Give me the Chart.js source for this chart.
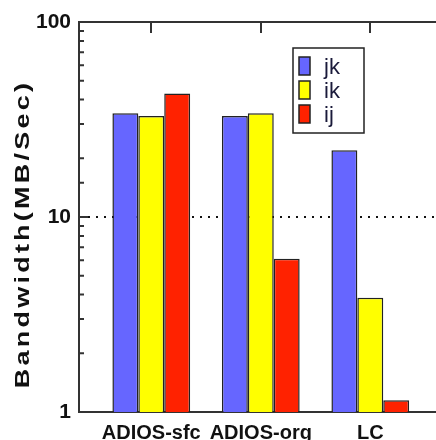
<!DOCTYPE html>
<html>
<head>
<meta charset="utf-8">
<script src="https://cdn.jsdelivr.net/npm/chart.js@4"></script>
<style>
  html, body { margin: 0; padding: 0; background: #fff; }
  #wrap { width: 436px; height: 440px; }
</style>
</head>
<body>
<div id="wrap"><canvas id="bwChart"></canvas></div>
<script>
// values (log scale, MB/Sec)
const categories = ["ADIOS-sfc", "ADIOS-org", "LC"];
const seriesNames = ["jk", "ik", "ij"];
const jkValues = [34, 33, 22];
const ikValues = [33, 34, 3.85];
const ijValues = [43, 6.1, 1.15];
const yTickLabels = [1, 10, 100];
const yTitleText = "Bandwidth(MB/Sec)";

const colors = ["#6666ff", "#ffff00", "#ff2200"];
const sans = "'Liberation Sans', Arial, sans-serif";

function toPoints(vals) {
    return vals.map((v, i) => ({ x: i, y: v }));
}

//frame on top + inward tick marks
const frameTicks = {
    id: "frameTicks",
    afterDatasetsDraw(chart) {
        const { ctx, chartArea: a, scales: { x, y } } = chart;
        ctx.save();
        ctx.strokeStyle = "#333";
        ctx.lineWidth = 2;
        ctx.beginPath();
        ctx.moveTo(a.left - 1, a.top);
        ctx.lineTo(a.right, a.top);
        categories.forEach((c, i) => {
            const px = Math.round(x.getPixelForValue(i));
            ctx.moveTo(px, a.top);
            ctx.lineTo(px, a.top + 11);
        });
        y.ticks.forEach(t => {
            const py = y.getPixelForValue(t.value);
            const len = yTickLabels.includes(t.value) ? 9 : 5;
            ctx.moveTo(a.left, py);
            ctx.lineTo(a.left + len, py);
        });
        ctx.stroke();
        ctx.restore();
    }
};

const yTitle = {
    id: "yTitle",
    afterDraw(chart) {
        const ctx = chart.ctx;
        ctx.save();
        ctx.translate(23, 234);
        ctx.rotate(-Math.PI / 2);
        ctx.scale(1.35, 1);
        ctx.font = "bold 20px " + sans;
        ctx.letterSpacing = "2.4px";
        ctx.textAlign = "center";
        ctx.textBaseline = "middle";
        ctx.fillStyle = "#111";
        ctx.fillText(yTitleText, 0, 0);
        ctx.restore();
    }
};

const boxLegend = {
    id: "boxLegend",
    afterDraw(chart) {
        const { ctx, chartArea: a } = chart;
        const bx = a.left + 214, by = a.top + 26, bw = 71, bh = 85;
        ctx.save();
        ctx.fillStyle = "#fff";
        ctx.fillRect(bx, by, bw, bh);
        ctx.strokeStyle = "#222";
        ctx.lineWidth = 1.5;
        ctx.strokeRect(bx, by, bw, bh);
        chart.data.datasets.forEach((ds, i) => {
            const sy = by + 9 + i * 24;
            ctx.fillStyle = ds.backgroundColor;
            ctx.fillRect(bx + 6, sy, 11, 18);
            ctx.strokeRect(bx + 6, sy, 11, 18);
            ctx.fillStyle = "#1a1a3a";
            ctx.font = "22px " + sans;
            ctx.textBaseline = "alphabetic";
            ctx.fillText(ds.label, bx + 31, sy + 17);
        });
        ctx.restore();
    }
};

const ctx = document.getElementById("bwChart").getContext("2d");
new Chart(ctx, {
    type: "bar",
    data: {
        datasets: [jkValues, ikValues, ijValues].map((vals, i) => ({
            label: seriesNames[i],
            data: toPoints(vals),
            backgroundColor: colors[i],
            borderColor: "#222",
            borderWidth: 1.5
        }))
    },
    options: {
        responsive: true,
        maintainAspectRatio: false,
        animation: false,
        layout: { padding: { top: 22, right: 0, bottom: 0, left: 0 } },
        datasets: { bar: { categoryPercentage: 0.71, barPercentage: 1 } },
        plugins: { legend: { display: false }, tooltip: { enabled: false } },
        scales: {
            x: {
                type: "linear",
                offset: false,
                min: -0.66,
                max: 2.6,
                afterFit: s => { s.height = 28; },
                afterBuildTicks: s => { s.ticks = categories.map((c, i) => ({ value: i })); },
                grid: { display: false },
                border: { color: "#333", width: 2 },
                ticks: {
                    padding: 1,
                    maxRotation: 0,
                    autoSkip: false,
                    color: "#111",
                    font: { family: sans, size: 20, weight: "bold" },
                    callback: v => categories[v]
                }
            },
            y: {
                type: "logarithmic",
                min: 1,
                max: 100,
                afterFit: s => { s.width = 79; },
                grid: {
                    drawTicks: false,
                    lineWidth: 2,
                    color: c => (c.tick && c.tick.value === 10) ? "#111" : "rgba(0,0,0,0)"
                },
                border: { color: "#333", width: 2, dash: [2, 6] },
                ticks: {
                    padding: 8,
                    autoSkip: false,
                    color: "#111",
                    font: { family: sans, size: 21, weight: "bold" },
                    callback: v => yTickLabels.includes(v) ? String(v) : ""
                }
            }
        }
    },
    plugins: [frameTicks, yTitle, boxLegend]
});
</script>
</body>
</html>
